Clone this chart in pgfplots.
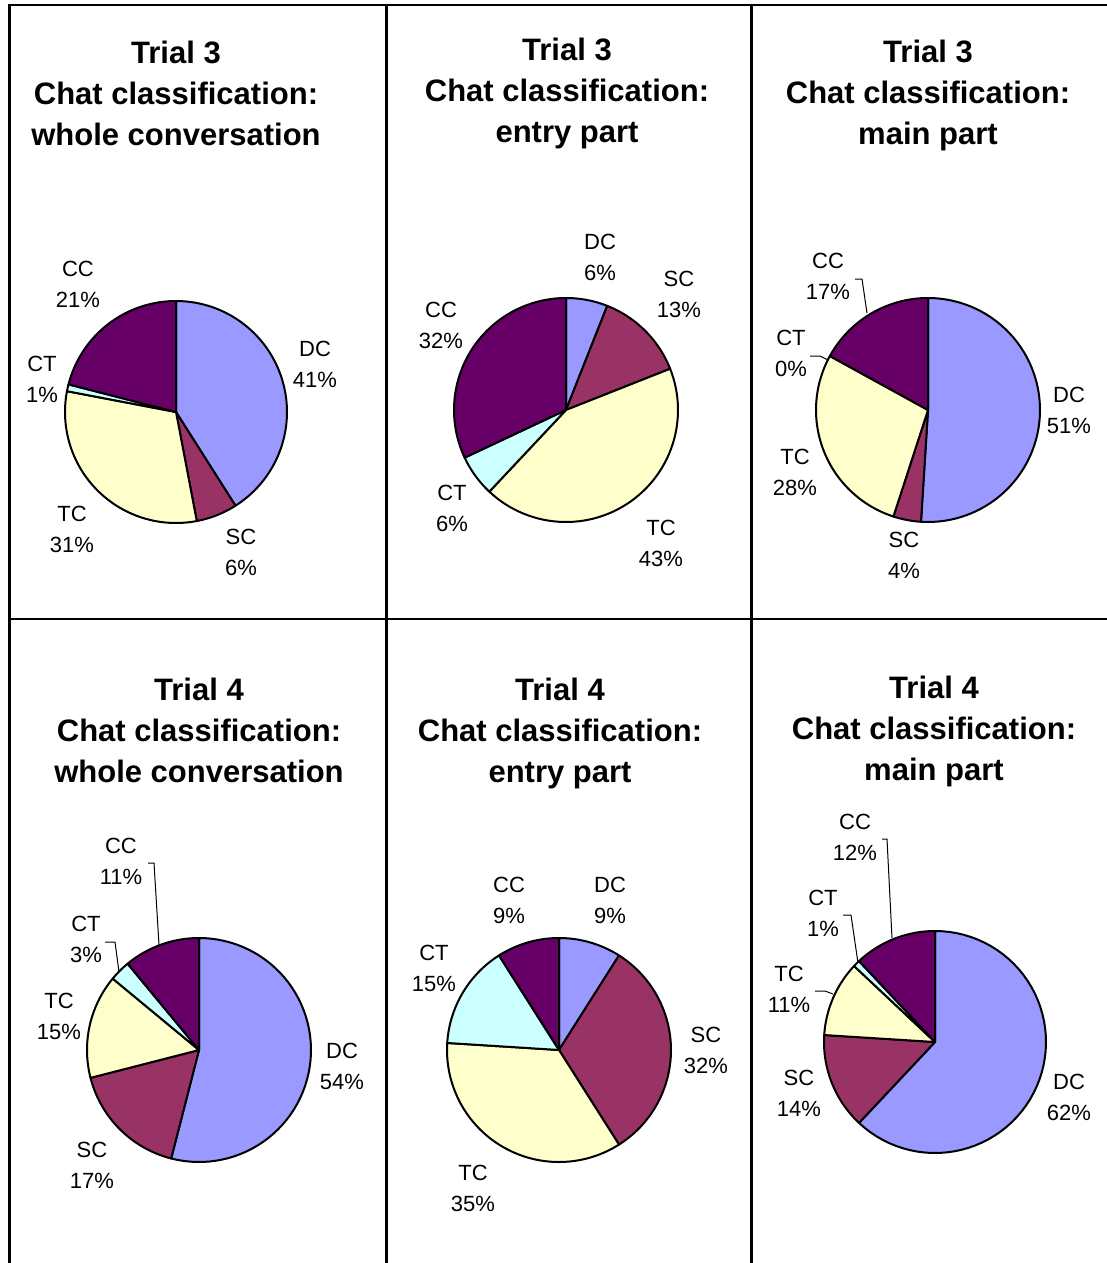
\documentclass[border=0pt]{standalone}
\usepackage{fontspec}
\setmainfont{Liberation Sans}
\usepackage{pgfplots}
\pgfplotsset{compat=1.18}

% Slice colours
\definecolor{dcCol}{HTML}{9999FF}
\definecolor{scCol}{HTML}{993366}
\definecolor{tcCol}{HTML}{FFFFCC}
\definecolor{ctCol}{HTML}{CCFFFF}
\definecolor{ccCol}{HTML}{660066}

\newcommand\titlefont{\fontsize{15.5}{20.5}\selectfont\bfseries}
\newcommand\labelfont{\fontsize{11}{15.5}\selectfont}

% One wedge: centre x, centre y, radius, start angle, end angle, colour
% (angles clockwise from 12 o'clock, y axis pointing down)
\newcommand\slice[6]{%
  \ifdim #4pt<#5pt
    \edef\tmp{\noexpand\addplot[draw=black, line width=1pt, line join=round,
      fill=#6, domain=#4:#5, samples=60]
      ({#1+#3*sin(x)},{#2-#3*cos(x)}) -- (axis cs:#1,#2) -- cycle;}%
    \tmp
  \fi}

% A pie of five shares in percent: DC, SC, TC, CT, CC
\newcommand\pie[8]{%
  \pgfmathsetmacro\pa{0}%
  \pgfmathsetmacro\pb{3.6*(#4)}%
  \pgfmathsetmacro\pc{3.6*(#4+#5)}%
  \pgfmathsetmacro\pd{3.6*(#4+#5+#6)}%
  \pgfmathsetmacro\pe{3.6*(#4+#5+#6+#7)}%
  \pgfmathsetmacro\pf{3.6*(#4+#5+#6+#7+#8)}%
  \slice{#1}{#2}{#3}{\pa}{\pb}{dcCol}%
  \slice{#1}{#2}{#3}{\pb}{\pc}{scCol}%
  \slice{#1}{#2}{#3}{\pc}{\pd}{tcCol}%
  \slice{#1}{#2}{#3}{\pd}{\pe}{ctCol}%
  \slice{#1}{#2}{#3}{\pe}{\pf}{ccCol}%
}

\newcommand\lab[3]{\node[font=\labelfont, align=center, inner sep=0pt] at (axis cs:#1,#2) {#3};}
\newcommand\ttl[3]{\node[font=\titlefont, align=center, inner sep=0pt] at (axis cs:#1,#2) {#3};}

\begin{document}
\begin{tikzpicture}
\begin{axis}[
  width=553.5pt, height=631.5pt, scale only axis,
  xmin=0, xmax=1107, ymin=0, ymax=1263, y dir=reverse,
  hide axis, clip=false]

% table rules
\addplot[black, line width=1.4pt] coordinates {(8,5) (1107,5)};
\addplot[black, line width=1.25pt] coordinates {(8,619) (1107,619)};
\addplot[black, line width=1.25pt] coordinates {(9.5,4) (9.5,1263)};
\addplot[black, line width=1.25pt] coordinates {(386.5,4) (386.5,1263)};
\addplot[black, line width=1.25pt] coordinates {(751.5,4) (751.5,1263)};

% Trial 3
\pie{176}{412}{111}{41}{6}{31}{1}{21}
\pie{566}{410}{112}{6}{13}{43}{6}{32}
\pie{928}{410}{112}{51}{4}{28}{0}{17}
% Trial 4
\pie{199}{1050}{112}{54}{17}{15}{3}{11}
\pie{559}{1050}{112}{9}{32}{35}{15}{9}
\pie{935}{1042}{111}{62}{14}{11}{1}{12}

% leader lines
\addplot[black, line width=0.5pt] coordinates {(855,279) (862,279) (867,313)};
\addplot[black, line width=0.5pt] coordinates {(810,356) (820,356) (828,360)};
\addplot[black, line width=0.5pt] coordinates {(148,863) (154,863) (159,945)};
\addplot[black, line width=0.5pt] coordinates {(105,942) (115,942) (119,972)};
\addplot[black, line width=0.5pt] coordinates {(882,839) (887,839) (892,938)};
\addplot[black, line width=0.5pt] coordinates {(843,915) (851,915) (858,963)};
\addplot[black, line width=0.5pt] coordinates {(815,991) (825,991) (833,994)};

% titles
\ttl{176}{93}{Trial 3\\Chat classification:\\whole conversation}
\ttl{567}{93}{Trial 3\\Chat classification:\\entry part}
\ttl{928}{95.5}{Trial 3\\Chat classification:\\main part}
\ttl{199}{730}{Trial 4\\Chat classification:\\whole conversation}
\ttl{560}{733}{Trial 4\\Chat classification:\\entry part}
\ttl{934}{731.5}{Trial 4\\Chat classification:\\main part}

% slice labels
\lab{78}{284.5}{CC\\21\%}
\lab{315}{364.5}{DC\\41\%}
\lab{42}{379.5}{CT\\1\%}
\lab{72}{529.5}{TC\\31\%}
\lab{241}{552.5}{SC\\6\%}

\lab{600}{257.5}{DC\\6\%}
\lab{679}{294.5}{SC\\13\%}
\lab{441}{325.5}{CC\\32\%}
\lab{452}{508.5}{CT\\6\%}
\lab{661}{543.5}{TC\\43\%}

\lab{828}{276.5}{CC\\17\%}
\lab{791}{353.5}{CT\\0\%}
\lab{1069}{410.5}{DC\\51\%}
\lab{795}{472.5}{TC\\28\%}
\lab{904}{555.5}{SC\\4\%}

\lab{121}{861.5}{CC\\11\%}
\lab{86}{939.5}{CT\\3\%}
\lab{59}{1016.5}{TC\\15\%}
\lab{342}{1066.5}{DC\\54\%}
\lab{92}{1165.5}{SC\\17\%}

\lab{509}{900.5}{CC\\9\%}
\lab{610}{900.5}{DC\\9\%}
\lab{434}{968.5}{CT\\15\%}
\lab{706}{1050}{SC\\32\%}
\lab{473}{1188}{TC\\35\%}

\lab{855}{837.5}{CC\\12\%}
\lab{823}{913.5}{CT\\1\%}
\lab{789}{989}{TC\\11\%}
\lab{799}{1093.5}{SC\\14\%}
\lab{1069}{1097.5}{DC\\62\%}

\coordinate (bl) at (axis cs:0,1263);
\coordinate (tr) at (axis cs:1107,0);
\end{axis}
\pgfresetboundingbox
\path (bl) rectangle (tr);
\end{tikzpicture}
\end{document}
